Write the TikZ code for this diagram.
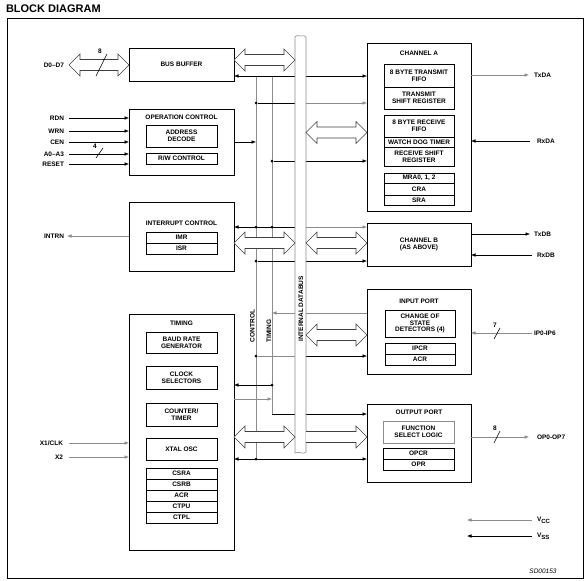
\documentclass[tikz,border=0pt]{standalone}
\usepackage{fontspec}
\setmainfont{Liberation Sans}
\usetikzlibrary{arrows.meta,calc}
\definecolor{gry}{gray}{0.55}
\newcommand\hdbl[2]{\draw[hollow] let \p1=(#1), \p2=(#2) in (\x1,\y1) -- (\x1+11pt,\y1+11pt) -- (\x1+11pt,\y1+5.5pt) -- (\x2-11pt,\y1+5.5pt) -- (\x2-11pt,\y1+11pt) -- (\x2,\y1) -- (\x2-11pt,\y1-11pt) -- (\x2-11pt,\y1-5.5pt) -- (\x1+11pt,\y1-5.5pt) -- (\x1+11pt,\y1-11pt) -- cycle;}
\newcommand\hsgl[2]{\draw[hollow] let \p1=(#1), \p2=(#2) in (\x1,\y1+5.5pt) -- (\x2-11pt,\y1+5.5pt) -- (\x2-11pt,\y1+11pt) -- (\x2,\y1) -- (\x2-11pt,\y1-11pt) -- (\x2-11pt,\y1-5.5pt) -- (\x1,\y1-5.5pt);}
\begin{document}
\begin{tikzpicture}[x=1pt,y=-1pt,
  every node/.style={font=\fontsize{6.5}{6.8}\selectfont\bfseries, inner sep=0pt, outer sep=0pt},
  sz/.style 2 args={minimum width=#1pt, minimum height=#2pt},
  blk/.style={draw, line width=0.8pt, anchor=north west},
  sub/.style={draw, line width=0.6pt, anchor=north west, align=center},
  ln/.style={line width=0.6pt},
  >={Latex[length=4.5pt,width=3.6pt]},
  dot/.style={circle, fill, minimum size=3pt, inner sep=0pt},
  hollow/.style={draw=black!75, line width=0.6pt, fill=white, line join=miter},
  lbl/.style={anchor=east},
  rlbl/.style={anchor=west}]
\useasboundingbox (0,0) rectangle (587,581);
\node[font=\fontsize{11}{11}\selectfont\bfseries, anchor=west] (title) at (6,9) {BLOCK DIAGRAM};
\draw[line width=0.8pt] (7,18) rectangle (583,578);

% ---- blocks ----
\node[blk, sz={105}{33}] (busbuf) at (129,48) {BUS BUFFER};

\node[blk, sz={105}{66}] (opctl) at (129,109) {};
\node (opctlT) at (181.5,117) {OPERATION CONTROL};
\node[sub, sz={71}{22}] (addr) at (146,125) {ADDRESS\\DECODE};
\node[sub, sz={71}{11}] (rw) at (146,153) {R/W CONTROL};

\node[blk, sz={105}{69}] (intctl) at (129,202) {};
\node (intT) at (181.5,223) {INTERRUPT CONTROL};
\node[sub, sz={71}{11}] (imr) at (146,232) {IMR};
\node[sub, sz={71}{11}] (isr) at (146,243) {ISR};

\node[blk, sz={105}{236}] (timing) at (129,314) {};
\node (timT) at (181.5,323) {TIMING};
\node[sub, sz={71}{21}] (baud) at (146,332) {BAUD RATE\\GENERATOR};
\node[sub, sz={71}{23}] (clk) at (146,366) {CLOCK\\SELECTORS};
\node[sub, sz={71}{23}] (ctr) at (146,403) {COUNTER/\\TIMER};
\node[sub, sz={71}{22}] (xtal) at (146,438) {XTAL OSC};
\foreach \t/\y/\n in {CSRA/468/csra, CSRB/479/csrb, ACR/490/acrt, CTPU/501/ctpu, CTPL/512/ctpl}
  \node[sub, sz={71}{11}] (\n) at (146,\y) {\t};

\node[blk, sz={104}{168}] (chA) at (367,43) {};
\node (chAT) at (419,53) {CHANNEL A};
\node[sub, sz={70}{23}] (tfifo) at (384,64) {8 BYTE TRANSMIT\\FIFO};
\node[sub, sz={70}{22}] (tsr) at (384,87) {TRANSMIT\\SHIFT REGISTER};
\node[sub, sz={70}{22}] (rfifo) at (384,115) {8 BYTE RECEIVE\\FIFO};
\node[sub, sz={70}{10}] (wdt) at (384,137) {WATCH DOG TIMER};
\node[sub, sz={70}{19}] (rsr) at (384,147) {RECEIVE SHIFT\\REGISTER};
\node[sub, sz={70}{10}] (mra) at (384,173) {MRA0, 1, 2};
\node[sub, sz={70}{12}] (cra) at (384,183) {CRA};
\node[sub, sz={70}{10}] (sra) at (384,195) {SRA};

\node[blk, sz={104}{43}, align=center] (chB) at (367,223) {CHANNEL B\\(AS ABOVE)};

\node[blk, sz={104}{85}] (inport) at (367,289) {};
\node (inT) at (419,301) {INPUT PORT};
\node[sub, sz={70}{27}] (cos) at (385,310) {CHANGE OF\\STATE\\DETECTORS (4)};
\node[sub, sz={70}{11}] (ipcr) at (385,343) {IPCR};
\node[sub, sz={70}{11}] (acri) at (385,354) {ACR};

\node[blk, sz={104}{78}] (outport) at (367,404) {};
\node (outT) at (419,412) {OUTPUT PORT};
\node[sub, sz={71}{22}, draw=gry, line width=0.8pt] (fsl) at (383,421) {FUNCTION\\SELECT LOGIC};
\node[sub, sz={71}{11}] (opcr) at (383,448) {OPCR};
\node[sub, sz={71}{11}] (opr) at (383,459) {OPR};

% bus anchor node (drawn later)
\node[anchor=north west, sz={11}{417}] (bus) at (295,36) {};

% ---- left side signals ----
\node[lbl] (d07) at (64,65) {D0--D7};
\hdbl{69,65}{busbuf.west|-0,65}
\draw[ln] (96,76) -- (107,54);
\node (n8a) at (100,51) {8};

\foreach \t/\y/\n in {RDN/118/rdn, WRN/131/wrn, CEN/142/cen, A0--A3/154/aa, RESET/164/rst}{
  \node[lbl] (\n) at (64,\y) {\t};
  \coordinate (\n s) at (69,\y);
  \draw[ln,->] (\n s) -- (opctl.west|-\n s);
}
\draw[ln] (96,158) -- (103,148);
\node (n4) at (95,146) {4};

\node[lbl] (intrn) at (64,236) {INTRN};
\coordinate (intrnE) at (67,236);
\draw[ln,gry,->] (intctl.west|-intrnE) -- (intrnE);

\node[lbl] (x1) at (63,443) {X1/CLK};
\coordinate (x1s) at (69,443);
\draw[ln,gry,->] (x1s) -- (timing.west|-x1s);
\node[lbl] (x2) at (63,457) {X2};
\coordinate (x2s) at (69,457);
\draw[ln,gry,->] (x2s) -- (timing.west|-x2s);

% ---- center control / timing ----
\coordinate (ctlTop) at (256,76); \coordinate (ctlBot) at (256,459);
\coordinate (timTop) at (272,76); \coordinate (timBend) at (272,414);
\draw[ln,gry] (ctlTop) -- (ctlBot);
\draw[ln,gry] (timTop) -- (timBend);
\draw[ln,<->] (busbuf.east|-ctlTop) -- (chA.west|-ctlTop);

\node[dot] (d1) at (256,103) {};
\draw[ln] (d1) -- (bus.west|-d1);
\draw[ln,gry,->] (bus.east|-d1) -- (chA.west|-d1);
\draw[ln,->] (opctl.east|-0,142) -- (ctlTop|-0,142);
\node[dot] (d2) at (272,161) {};
\draw[ln,->] (d2) -- (chA.west|-d2);

\node[dot] (d3) at (256,227) {};
\node[dot] (d4) at (272,227) {};
\draw[ln,<-] (intctl.east|-d3) -- (bus.west|-d3);
\draw[ln,gry,->] (bus.east|-d3) -- (chB.west|-d3);
\node[dot] (d5) at (256,261) {};
\draw[ln,->] (d5) -- (chB.west|-d5);

\coordinate (t313) at (272,313);
\draw[ln,gry,->] (inport.west|-t313) -- (t313);
\node[dot] (d6) at (256,356) {};
\draw[ln,gry] (d6) -- (bus.west|-d6);
\draw[ln,->] (bus.east|-d6) -- (inport.west|-d6);

\node[dot] (d7) at (272,385) {};
\draw[ln,<-] (timing.east|-d7) -- (d7);
\coordinate (t399) at (272,399);
\draw[ln,gry,->] (timing.east|-t399) -- (t399);
\draw[ln,->] (timBend) -- (outport.west|-timBend);
\node[dot] (d8) at (256,459) {};
\draw[ln,<->] (timing.east|-d8) -- (outport.west|-d8);

\node[rotate=90] (ctlL) at (252.5,326) {CONTROL};
\node[rotate=90] (timL) at (269,331) {TIMING};

% ---- internal databus ----
\fill[white] (295,37) rectangle (306,452);
\draw[ln,gry] (295,453) -- (295,37) .. controls (297,34) and (299,37) .. (301,36) .. controls (303,35) and (305,36) .. (306,37) -- (306,452) .. controls (303,455) and (300,451) .. (295,453);
\node[rotate=90] (ibus) at (301,309) {INTERNAL DATABUS};

% ---- hollow bus arrows ----
\hdbl{busbuf.east|-0,60}{bus.west|-0,60}
\hdbl{bus.east|-0,132.5}{chA.west|-0,132.5}
\hdbl{intctl.east|-0,243}{bus.west|-0,243}
\hdbl{bus.east|-0,243}{chB.west|-0,243}
\hdbl{bus.east|-0,335}{inport.west|-0,335}
\hdbl{timing.east|-0,437}{bus.west|-0,437}
\hsgl{bus.east|-0,437}{outport.west|-0,437}

% ---- right side signals ----
\coordinate (txdaE) at (529,75);
\draw[ln,gry,->] (chA.east|-txdaE) -- (txdaE);
\node[rlbl] (txda) at (534,75) {TxDA};
\coordinate (rxdaS) at (530,141);
\draw[ln,->] (rxdaS) -- (chA.east|-rxdaS);
\node[rlbl] (rxda) at (537,141) {RxDA};

\coordinate (txdbE) at (530,234);
\draw[ln,->] (chB.east|-txdbE) -- (txdbE);
\node[rlbl] (txdb) at (534,234) {TxDB};
\coordinate (rxdbS) at (532,255);
\draw[ln,->] (rxdbS) -- (chB.east|-rxdbS);
\node[rlbl] (rxdb) at (537,255) {RxDB};

\coordinate (ipS) at (532,333);
\draw[ln,gry,->] (ipS) -- (inport.east|-ipS);
\draw[ln] (494,339) -- (500,328);
\node (n7) at (495,325) {7};
\node[rlbl] (ip) at (534,333) {IP0-IP6};

\coordinate (opE) at (529,437);
\draw[ln,gry,->] (outport.east|-opE) -- (opE);
\draw[ln] (494,443) -- (500,431);
\node (n8b) at (495,428) {8};
\node[rlbl] (op) at (537,437) {OP0-OP7};

\coordinate (vccR) at (532,520); \coordinate (vccL) at (467,520);
\draw[ln,gry,->] (vccR) -- (vccL);
\node[rlbl] (vcc) at (537,520) {V\raisebox{-1.8pt}{\fontsize{6}{6}\selectfont CC}};
\coordinate (vssR) at (532,536); \coordinate (vssL) at (467,536);
\draw[ln,->] (vssR) -- (vssL);
\node[rlbl] (vss) at (537,536) {V\raisebox{-1.8pt}{\fontsize{6}{6}\selectfont SS}};

\node[font=\fontsize{6.5}{6.5}\selectfont\itshape] (sd) at (543,571) {SD00153};
\end{tikzpicture}
\end{document}
